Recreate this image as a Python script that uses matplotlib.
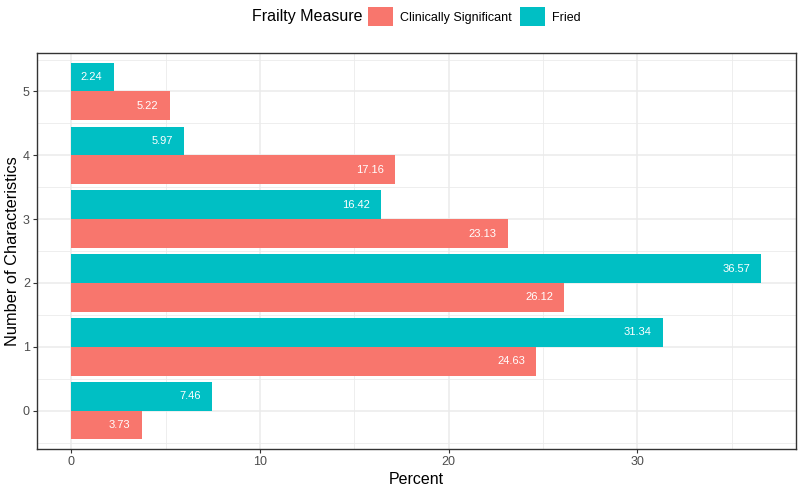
import numpy as np
import matplotlib.pyplot as plt
from matplotlib.patches import Patch
from matplotlib.ticker import MultipleLocator

categories = [0, 1, 2, 3, 4, 5]
clinically = [3.73, 24.63, 26.12, 23.13, 17.16, 5.22]
fried = [7.46, 31.34, 36.57, 16.42, 5.97, 2.24]

col_cs = '#F8766D'
col_fr = '#00BFC4'

plt.rcParams['font.family'] = ['Liberation Sans', 'DejaVu Sans']

fig = plt.figure(figsize=(8, 4.88), dpi=100)
ax = fig.add_axes([0.046, 0.080, 0.949, 0.811])

y = np.array(categories, dtype=float)
h = 0.45
ax.barh(y - h / 2, clinically, height=h, color=col_cs, zorder=2)
ax.barh(y + h / 2, fried, height=h, color=col_fr, zorder=2)

for yi, v in zip(y, clinically):
    ax.text(v - 0.6, yi - h / 2, f'{v:.2f}', color='white', fontsize=8,
            ha='right', va='center', zorder=3)
for yi, v in zip(y, fried):
    ax.text(v - 0.6, yi + h / 2, f'{v:.2f}', color='white', fontsize=8,
            ha='right', va='center', zorder=3)

xmax = max(max(clinically), max(fried))
ax.set_xlim(-0.05 * xmax, xmax * 1.05)
ax.set_ylim(-0.6, 5.6)
ax.xaxis.set_major_locator(MultipleLocator(10))
ax.xaxis.set_minor_locator(MultipleLocator(5))
ax.set_yticks(categories)
ax.yaxis.set_minor_locator(MultipleLocator(0.5))
ax.grid(which='major', color='#EBEBEB', linewidth=1.1, zorder=0)
ax.grid(which='minor', color='#EBEBEB', linewidth=0.6, zorder=0)
ax.set_axisbelow(True)
ax.tick_params(which='minor', length=0)
ax.tick_params(which='major', length=3, color='#333333', labelsize=9,
               labelcolor='#4D4D4D', pad=2)
for s in ax.spines.values():
    s.set_color('#333333')
    s.set_linewidth(1.0)

ax.set_xlabel('Percent', fontsize=11.5, labelpad=3)
ax.set_ylabel('Number of Characteristics', fontsize=11.8, labelpad=2)

fig.text(0.315, 0.966, 'Frailty Measure', fontsize=11.5, va='center', ha='left')
handles = [Patch(facecolor=col_cs, label='Clinically Significant'),
           Patch(facecolor=col_fr, label='Fried')]
fig.legend(handles=handles, ncol=2, loc='center left', bbox_to_anchor=(0.46, 0.966),
           frameon=False, fontsize=9, handlelength=2.0, handleheight=2.0,
           columnspacing=0.6, handletextpad=0.6, borderaxespad=0, borderpad=0)

fig.savefig('out.png', dpi=100)
